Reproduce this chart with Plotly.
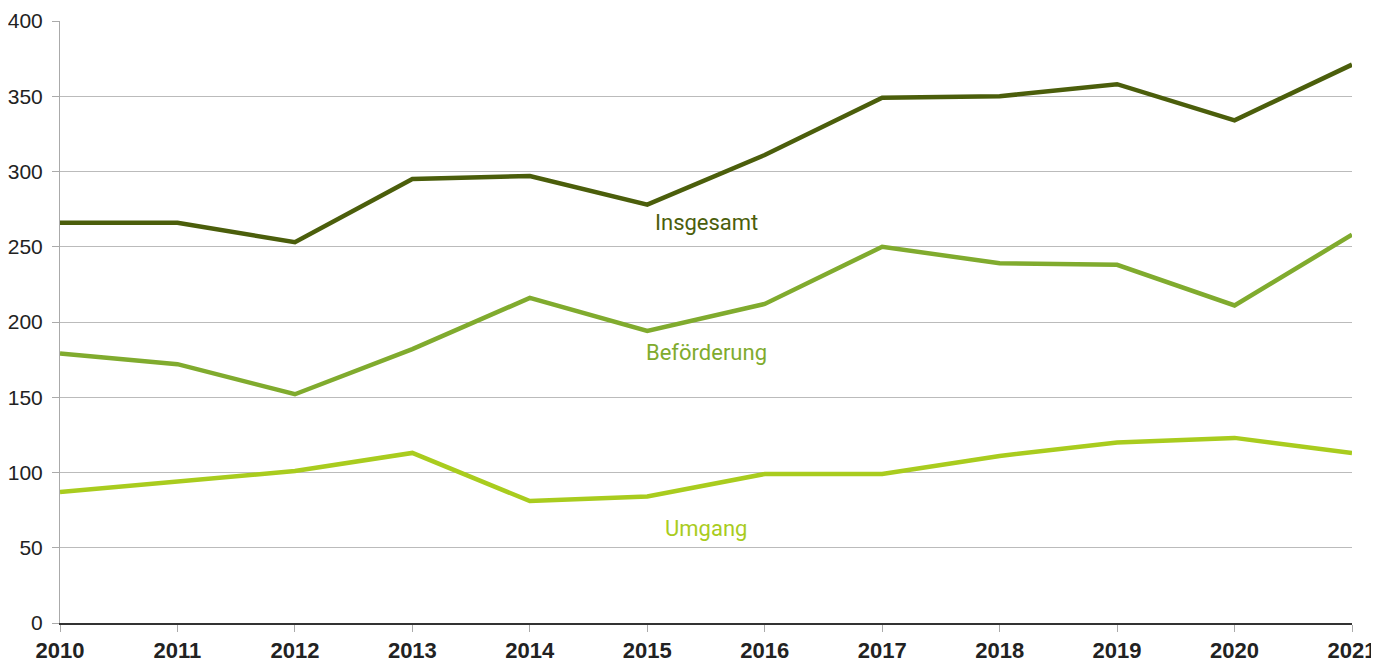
import plotly.graph_objects as go

years = list(range(2010, 2022))
insgesamt = [266, 266, 253, 295, 297, 278, 311, 349, 350, 358, 334, 371]
befoerderung = [179, 172, 152, 182, 216, 194, 212, 250, 239, 238, 211, 258]
umgang = [87, 94, 101, 113, 81, 84, 99, 99, 111, 120, 123, 113]

series = [
    ("Insgesamt", insgesamt, "#4b5e0b", 2015.5, 266),
    ("Beförderung", befoerderung, "#80ab2e", 2015.5, 180),
    ("Umgang", umgang, "#a9cc1e", 2015.5, 63),
]

fig = go.Figure()
for name, vals, color, lx, ly in series:
    fig.add_trace(go.Scatter(x=years, y=vals, mode="lines", name=name,
                             line=dict(color=color, width=4.5), showlegend=False,
                             cliponaxis=False))
    fig.add_annotation(x=lx, y=ly, text=name, showarrow=False,
                       font=dict(family="Roboto, Liberation Sans, sans-serif", size=22, color=color))

# page body has an 8px default margin; margins compensate for it
fig.update_layout(
    width=1379, height=660,
    margin=dict(l=52, r=35, t=13, b=45, autoexpand=False),
    plot_bgcolor="white", paper_bgcolor="white",
    font=dict(family="Liberation Sans, Arial, sans-serif"),
    xaxis=dict(range=[2010, 2021], tickmode="array", tickvals=years,
               ticktext=[str(y) for y in years], showgrid=False,
               ticks="outside", ticklen=7, tickcolor="#aaaaaa", automargin=False,
               tickfont=dict(family="Liberation Sans, Arial, sans-serif", size=22,
                             color="#222222", weight="bold"),
               showline=True, linecolor="#333333", linewidth=2, zeroline=False),
    yaxis=dict(range=[0, 400], tickvals=[0, 50, 100, 150, 200, 250, 300, 350, 400],
               showgrid=True, gridcolor="#bbbbbb", gridwidth=1, automargin=False,
               ticks="outside", ticklen=7, tickcolor="#aaaaaa", ticklabelstandoff=5,
               tickfont=dict(family="Liberation Sans, Arial, sans-serif", size=21, color="#222222"),
               showline=True, linecolor="#aaaaaa", linewidth=1, zeroline=False),
)
fig.write_html("out.html")
